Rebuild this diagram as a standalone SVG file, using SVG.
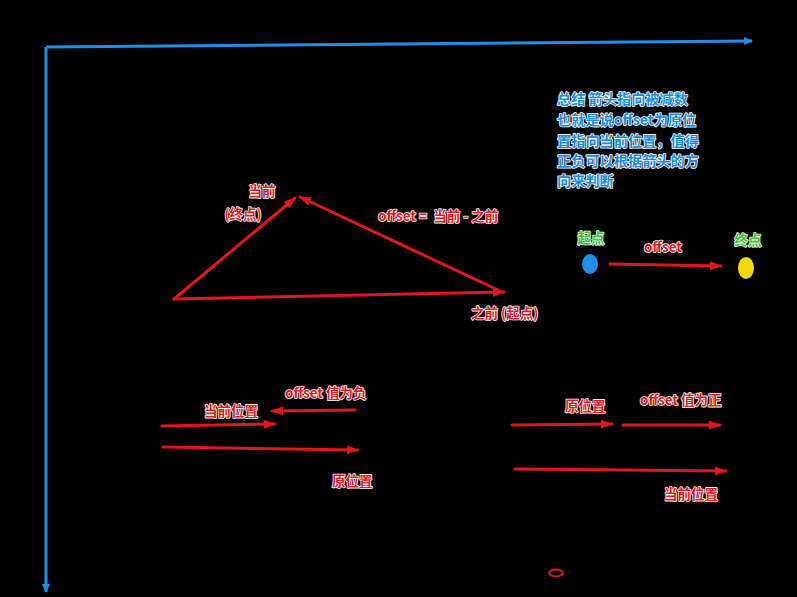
<svg xmlns="http://www.w3.org/2000/svg" width="797" height="597" viewBox="0 0 797 597">
<defs>
<style>
.t{font-family:"Noto Sans CJK SC","Liberation Sans",sans-serif;font-weight:bold;font-size:13.5px;paint-order:stroke;stroke:#fff;stroke-width:1.6px;stroke-linejoin:round}
.s{font-size:14.2px}
.r{fill:#e3161b}
.b{fill:#1a8be0}
.g{fill:#3fbf3f;stroke:#e8ffe0}
.rl{stroke:#e3161b;stroke-width:3;fill:none;stroke-linecap:round}
.bl{stroke:#1f8fe8;stroke-width:3;fill:none}
</style>
<marker id="ar" markerUnits="userSpaceOnUse" markerWidth="13" markerHeight="10" refX="11" refY="5" orient="auto"><path d="M0,0.5 L12,5 L0,9.5 Z" fill="#e3161b"/></marker>
<marker id="ab" markerUnits="userSpaceOnUse" markerWidth="10" markerHeight="10" refX="8" refY="5" orient="auto"><path d="M0,1 L9,5 L0,9 Z" fill="#1f8fe8"/></marker>
</defs>
<rect width="797" height="597" fill="#000"/>
<g id="connectors">
<path class="bl" d="M46,47 L752,41" marker-end="url(#ab)"/>
<path class="bl" d="M46,47 L46,592" marker-end="url(#ab)"/>
<path class="rl" d="M174,299 L295,198" marker-end="url(#ar)"/>
<path class="rl" d="M498,290 L300,197" marker-end="url(#ar)"/>
<path class="rl" d="M174,299 L504,292" marker-end="url(#ar)"/>
<path class="rl" d="M610,264 L721,266" marker-end="url(#ar)"/>
<path class="rl" d="M355,410 L272,411" marker-end="url(#ar)"/>
<path class="rl" d="M162,426 L275,424" marker-end="url(#ar)"/>
<path class="rl" d="M163,447 L358,450" marker-end="url(#ar)"/>
<path class="rl" d="M512,425 L612,424" marker-end="url(#ar)"/>
<path class="rl" d="M623,425 L720,425" marker-end="url(#ar)"/>
<path class="rl" d="M515,469 L726,471" marker-end="url(#ar)"/>
</g>
<g id="summary">
<text class="t s b" x="557" y="104">总结 箭头指向被减数</text>
<text class="t s b" x="557" y="125">也就是说offset为原位</text>
<text class="t s b" x="557" y="146">置指向当前位置，值得</text>
<text class="t s b" x="557" y="166">正负可以根据箭头的方</text>
<text class="t s b" x="557" y="186">向来判断</text>
</g>
<g id="triangle-labels">
<text class="t r" x="262" y="196" text-anchor="middle">当前</text>
<text class="t r" x="243" y="219" text-anchor="middle">(终点)</text>
<text class="t r" x="378" y="221">offset =&#160; 当前 - 之前</text>
<text class="t r" x="471" y="318">之前 (起点)</text>
</g>
<g id="start-node">
<ellipse cx="590" cy="264" rx="8" ry="10" fill="#1e90e8"/>
<text class="t g" x="591" y="243" text-anchor="middle">起点</text>
</g>
<g id="end-node">
<ellipse cx="746" cy="268" rx="8" ry="11" fill="#f5d800"/>
<text class="t g" x="748" y="245" text-anchor="middle">终点</text>
</g>
<g id="offset-label">
<text class="t r" x="663" y="252" text-anchor="middle">offset</text>
</g>
<g id="negative">
<text class="t r" x="285" y="398">offset 值为负</text>
<text class="t r" x="204" y="416">当前位置</text>
<text class="t r" x="332" y="486">原位置</text>
</g>
<g id="positive">
<text class="t r" x="565" y="411">原位置</text>
<text class="t r" x="640" y="405">offset 值为正</text>
<text class="t r" x="664" y="499">当前位置</text>
</g>
<g id="small-ellipse">
<ellipse cx="556" cy="573" rx="7" ry="3.5" fill="none" stroke="#e3161b" stroke-width="2"/>
</g>
</svg>
